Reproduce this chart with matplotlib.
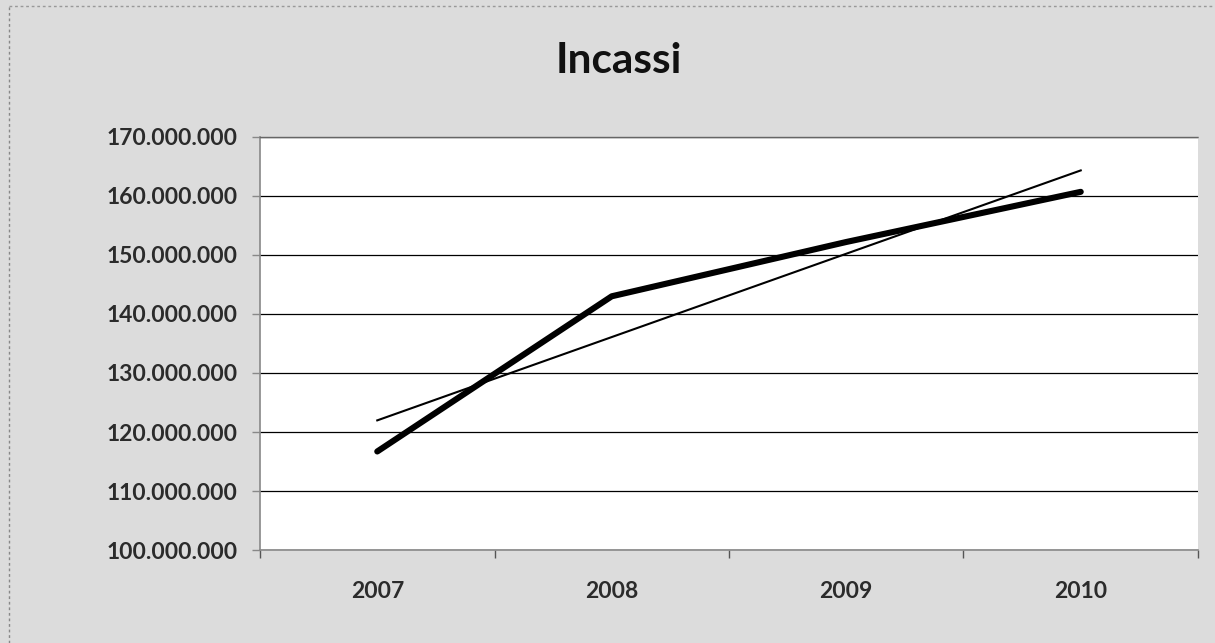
import numpy as np
import matplotlib
matplotlib.use("Agg")
import matplotlib.pyplot as plt
from matplotlib.ticker import FuncFormatter, FixedLocator

# Incassi per anno (valori in euro)
anni = ["2007", "2008", "2009", "2010"]
incassi = [116_700_000, 143_000_000, 152_200_000, 160_700_000]
y_ticks = [100_000_000, 110_000_000, 120_000_000, 130_000_000,
           140_000_000, 150_000_000, 160_000_000, 170_000_000]
titolo = "Incassi"

plt.rcParams["font.family"] = ["Lato", "DejaVu Sans"]

fig = plt.figure(figsize=(12.15, 6.43), dpi=100)
fig.patch.set_facecolor("#dcdcdc")
ax = fig.add_axes([0.214, 0.1446, 0.772, 0.6424])
ax.set_facecolor("white")

x = np.arange(len(anni))
y = np.array(incassi, dtype=float)

# serie principale
ax.plot(x, y, color="black", linewidth=4.4, solid_capstyle="round",
        solid_joinstyle="round", zorder=3)

# linea di tendenza lineare
coef = np.polyfit(x, y, 1)
ax.plot(x, np.polyval(coef, x), color="black", linewidth=1.5, zorder=3)

ax.set_xlim(-0.5, len(anni) - 0.5)
ax.set_ylim(y_ticks[0], y_ticks[-1])

ax.yaxis.set_major_locator(FixedLocator(y_ticks))
ax.yaxis.set_major_formatter(
    FuncFormatter(lambda v, p: f"{int(round(v)):,}".replace(",", ".")))
ax.yaxis.grid(True, color="black", linewidth=0.9)
ax.set_axisbelow(True)

ax.set_xticks(x)
ax.set_xticklabels(anni)
ax.set_xticks(np.arange(len(anni) + 1) - 0.5, minor=True)
ax.tick_params(axis="x", which="major", length=0, pad=22)
ax.tick_params(axis="x", which="minor", length=6, color="#555555", width=1)
ax.tick_params(axis="y", length=6, color="#888888", width=1, pad=10)

for lab in ax.get_xticklabels() + ax.get_yticklabels():
    lab.set_fontsize(16.5)
    lab.set_fontweight("bold")
    lab.set_color("#2b2b2b")

for side in ("left", "bottom"):
    ax.spines[side].set_color("#888888")
    ax.spines[side].set_linewidth(1.2)
ax.spines["top"].set_color("#666666")
ax.spines["top"].set_linewidth(1.0)
ax.spines["top"].set_linestyle((0, (3, 1)))
ax.spines["right"].set_visible(False)

fig.text(0.509, 0.905, titolo, ha="center", va="center",
         fontsize=30.5, fontweight="bold", color="#111111")

# cornice esterna
fig.add_artist(plt.Line2D([0.007, 0.007], [0.0, 0.99], transform=fig.transFigure,
                          color="#888888", linewidth=1, linestyle=(0, (2, 2))))
fig.add_artist(plt.Line2D([0.007, 1.0], [0.99, 0.99], transform=fig.transFigure,
                          color="#999999", linewidth=1, linestyle=(0, (2, 2))))

fig.savefig("out.png", dpi=100, facecolor=fig.get_facecolor())
